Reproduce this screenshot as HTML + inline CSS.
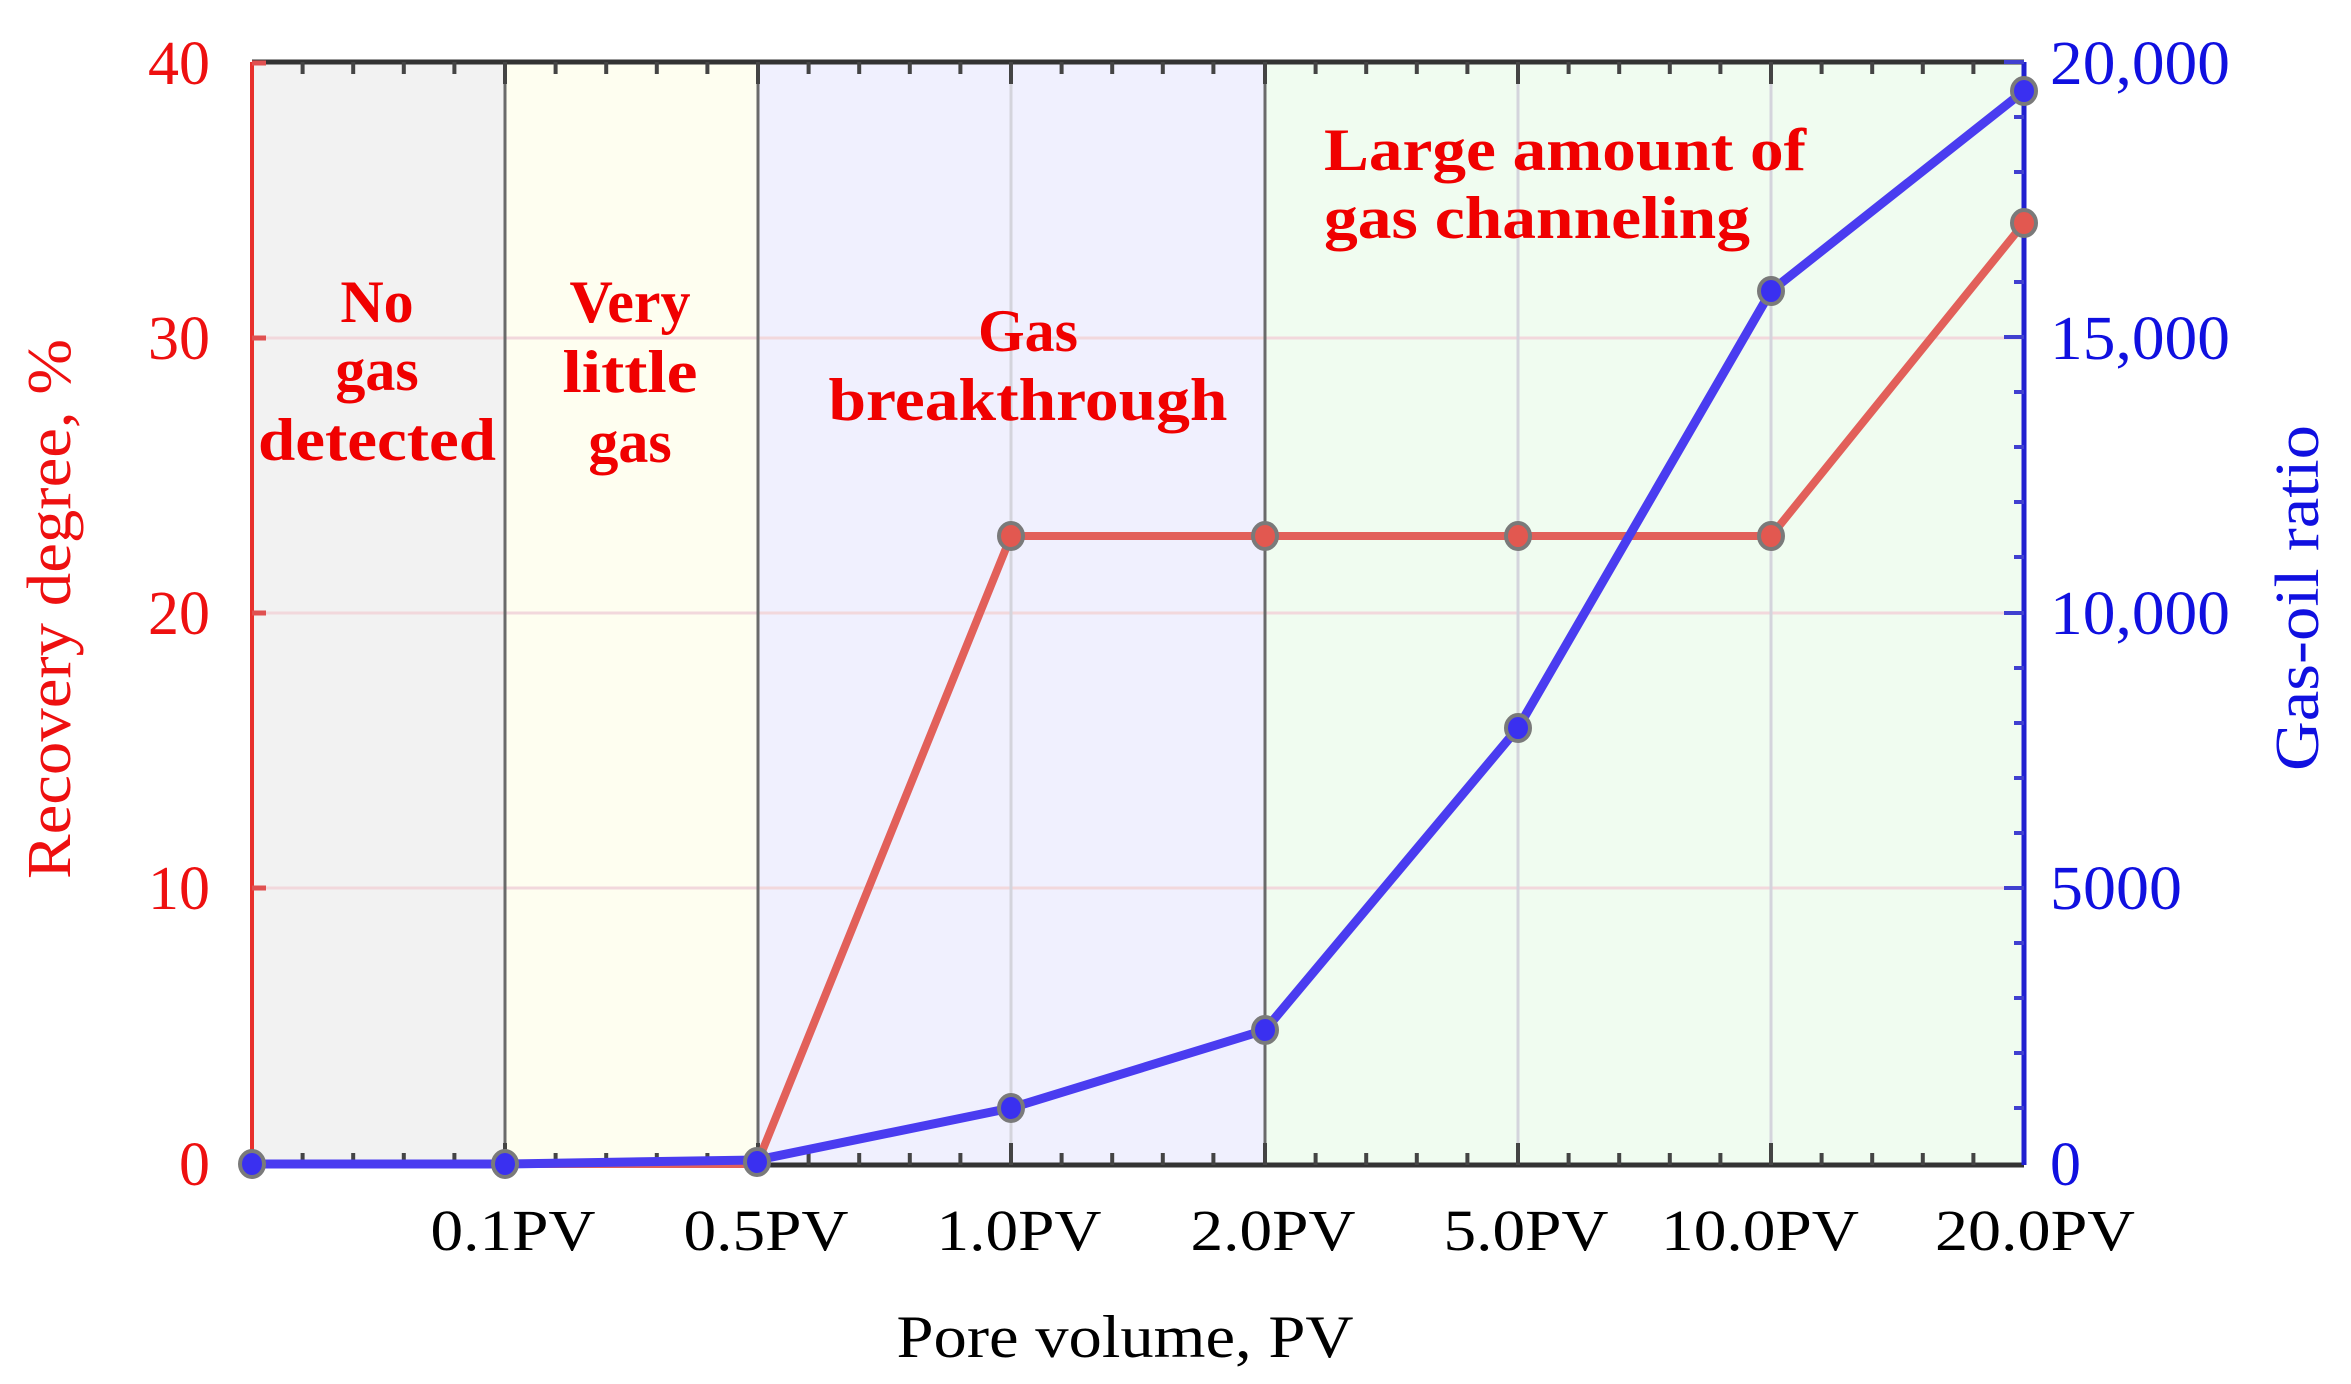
<!DOCTYPE html>
<html><head><meta charset="utf-8"><style>html,body{margin:0;padding:0;background:#fff}svg{display:block}</style></head>
<body>
<svg width="2351" height="1384" viewBox="0 0 2351 1384" xmlns="http://www.w3.org/2000/svg" font-family="Liberation Serif, serif">
<!-- backgrounds -->
<rect x="252" y="62" width="253" height="1102" fill="#f2f2f2"/>
<rect x="505" y="62" width="253" height="1102" fill="#fefef0"/>
<rect x="758" y="62" width="507" height="1102" fill="#f0f0fe"/>
<rect x="1265" y="62" width="759" height="1102" fill="#f0fcf0"/>
<!-- grid -->
<g stroke="#f2d8dc" stroke-width="3">
<line x1="252" y1="888" x2="2024" y2="888"/>
<line x1="252" y1="613" x2="2024" y2="613"/>
<line x1="252" y1="338" x2="2024" y2="338"/>
</g>
<g stroke="#d4d4dc" stroke-width="3">
<line x1="1011" y1="62" x2="1011" y2="1164"/>
<line x1="1518" y1="62" x2="1518" y2="1164"/>
<line x1="1771" y1="62" x2="1771" y2="1164"/>
</g>
<g stroke="#6a6a6a" stroke-width="3">
<line x1="505" y1="62" x2="505" y2="1164"/>
<line x1="758" y1="62" x2="758" y2="1164"/>
<line x1="1265" y1="62" x2="1265" y2="1164"/>
</g>
<!-- top/bottom axes -->
<line x1="252" y1="62" x2="2024" y2="62" stroke="#333" stroke-width="5"/>
<line x1="252" y1="1165" x2="2024" y2="1165" stroke="#333" stroke-width="5"/>
<g stroke="#444" stroke-width="4">
<path d="M302.6 62v12M353.2 62v12M403.8 62v12M454.4 62v12M555.6 62v12M606.2 62v12M656.8 62v12M707.4 62v12M808.6 62v12M859.2 62v12M909.8 62v12M960.4 62v12M1061.6 62v12M1112.2 62v12M1162.8 62v12M1213.4 62v12M1315.6 62v12M1366.2 62v12M1416.8 62v12M1467.4 62v12M1568.6 62v12M1619.2 62v12M1669.8 62v12M1720.4 62v12M1821.6 62v12M1872.2 62v12M1922.8 62v12M1973.4 62v12"/>
<path d="M505 62v22M758 62v22M1011 62v22M1265 62v22M1518 62v22M1771 62v22"/>
<path d="M302.6 1165v-12M353.2 1165v-12M403.8 1165v-12M454.4 1165v-12M555.6 1165v-12M606.2 1165v-12M656.8 1165v-12M707.4 1165v-12M808.6 1165v-12M859.2 1165v-12M909.8 1165v-12M960.4 1165v-12M1061.6 1165v-12M1112.2 1165v-12M1162.8 1165v-12M1213.4 1165v-12M1315.6 1165v-12M1366.2 1165v-12M1416.8 1165v-12M1467.4 1165v-12M1568.6 1165v-12M1619.2 1165v-12M1669.8 1165v-12M1720.4 1165v-12M1821.6 1165v-12M1872.2 1165v-12M1922.8 1165v-12M1973.4 1165v-12"/>
<path d="M505 1165v-22M758 1165v-22M1011 1165v-22M1265 1165v-22M1518 1165v-22M1771 1165v-22"/>
</g>
<!-- left axis -->
<line x1="252" y1="62" x2="252" y2="1165" stroke="#e8302c" stroke-width="4"/>
<g stroke="#e05050" stroke-width="5"><path d="M252 63h14M252 338h14M252 613h14M252 888h14"/></g>
<!-- right axis -->
<line x1="2024" y1="62" x2="2024" y2="1165" stroke="#2020d0" stroke-width="5"/>
<g stroke="#4040d0" stroke-width="4">
<path d="M2024 117h-10M2024 172h-10M2024 227h-10M2024 282h-10M2024 392h-10M2024 447h-10M2024 502h-10M2024 557h-10M2024 668h-10M2024 723h-10M2024 778h-10M2024 833h-10M2024 943h-10M2024 998h-10M2024 1053h-10M2024 1108h-10"/>
<path d="M2024 62h-20M2024 337h-20M2024 613h-20M2024 888h-20"/>
</g>
<!-- series -->
<polyline points="252,1164 505,1164 757,1164 1011,536 1265,536 1518,536 1771,536 2024,223" fill="none" stroke="#e2605a" stroke-width="8" stroke-linejoin="round"/>
<polyline points="252,1164 505,1164 757,1160 1011,1108 1265,1030 1518,728 1771,291 2024,91" fill="none" stroke="#4a3cf0" stroke-width="9" stroke-linejoin="round"/>
<g stroke="#7a7a7a" stroke-width="4">
<g fill="#e25850">
<ellipse cx="1011" cy="536" rx="12" ry="13"/><ellipse cx="1265" cy="536" rx="12" ry="13"/><ellipse cx="1518" cy="536" rx="12" ry="13"/><ellipse cx="1771" cy="536" rx="12" ry="13"/><ellipse cx="2024" cy="223" rx="12" ry="13"/>
</g>
<g fill="#3a30f0">
<ellipse cx="252" cy="1164" rx="12" ry="13"/><ellipse cx="505" cy="1164" rx="12" ry="13"/><ellipse cx="757" cy="1162" rx="12" ry="13"/><ellipse cx="1011" cy="1108" rx="12" ry="13"/><ellipse cx="1265" cy="1030" rx="12" ry="13"/><ellipse cx="1518" cy="728" rx="12" ry="13"/><ellipse cx="1771" cy="291" rx="12" ry="13"/><ellipse cx="2024" cy="91" rx="12" ry="13"/>
</g>
</g>
<!-- left tick labels -->
<g fill="#ee1010" font-size="62" text-anchor="end">
<text x="210" y="84">40</text>
<text x="210" y="359">30</text>
<text x="210" y="634">20</text>
<text x="210" y="909">10</text>
<text x="210" y="1185">0</text>
</g>
<!-- right tick labels -->
<g fill="#1010e0" font-size="62">
<text x="2050" y="84" textLength="180" lengthAdjust="spacingAndGlyphs">20,000</text>
<text x="2050" y="359" textLength="180" lengthAdjust="spacingAndGlyphs">15,000</text>
<text x="2050" y="634" textLength="180" lengthAdjust="spacingAndGlyphs">10,000</text>
<text x="2050" y="909" textLength="132" lengthAdjust="spacingAndGlyphs">5000</text>
<text x="2050" y="1185">0</text>
</g>
<!-- x tick labels -->
<g fill="#000" font-size="58" text-anchor="middle">
<text x="513" y="1250" textLength="165" lengthAdjust="spacingAndGlyphs">0.1PV</text>
<text x="766" y="1250" textLength="165" lengthAdjust="spacingAndGlyphs">0.5PV</text>
<text x="1019" y="1250" textLength="165" lengthAdjust="spacingAndGlyphs">1.0PV</text>
<text x="1273" y="1250" textLength="165" lengthAdjust="spacingAndGlyphs">2.0PV</text>
<text x="1526" y="1250" textLength="165" lengthAdjust="spacingAndGlyphs">5.0PV</text>
<text x="1760" y="1250" textLength="198" lengthAdjust="spacingAndGlyphs">10.0PV</text>
<text x="2035" y="1250" textLength="200" lengthAdjust="spacingAndGlyphs">20.0PV</text>
</g>
<text x="1125" y="1357" font-size="60" text-anchor="middle" textLength="457" lengthAdjust="spacingAndGlyphs">Pore volume, PV</text>
<text transform="translate(70,609) rotate(-90)" fill="#ee1010" font-size="62" text-anchor="middle" textLength="540" lengthAdjust="spacingAndGlyphs">Recovery degree, %</text>
<text transform="translate(2318,598) rotate(-90)" fill="#1010e0" font-size="62" text-anchor="middle" textLength="346" lengthAdjust="spacingAndGlyphs">Gas-oil ratio</text>
<!-- annotations -->
<g fill="#f00000" font-size="60" font-weight="bold" text-anchor="middle">
<text x="377" y="322">No</text>
<text x="377" y="390">gas</text>
<text x="377" y="460" textLength="238" lengthAdjust="spacingAndGlyphs">detected</text>
<text x="630" y="322">Very</text>
<text x="630" y="392" textLength="135" lengthAdjust="spacingAndGlyphs">little</text>
<text x="630" y="462">gas</text>
<text x="1028" y="351">Gas</text>
<text x="1028" y="420" textLength="399" lengthAdjust="spacingAndGlyphs">breakthrough</text>
<text x="1565" y="170" textLength="482" lengthAdjust="spacingAndGlyphs">Large amount of</text>
<text x="1537" y="238" textLength="426" lengthAdjust="spacingAndGlyphs">gas channeling</text>
</g>
</svg>
</body></html>
